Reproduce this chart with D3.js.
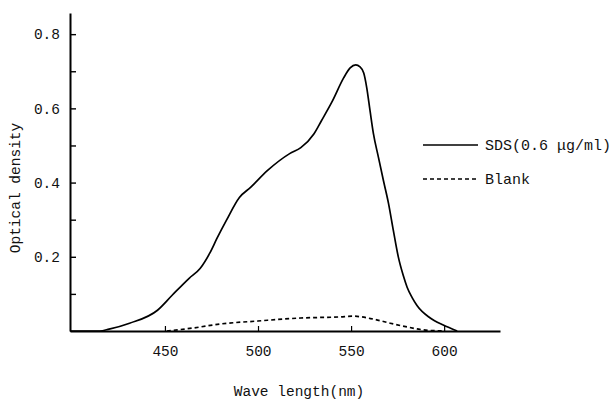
<!DOCTYPE html>
<html>
<head>
<meta charset="utf-8">
<script src="https://cdn.jsdelivr.net/npm/d3@7"></script>
<style>
  body { margin: 0; background: #fff; }
  text { font-family: "Liberation Mono", "DejaVu Sans Mono", monospace; fill: #111; }
</style>
</head>
<body>
<svg id="chart"></svg>
<script>
// wavelength (nm) and optical density
var sdsWave = [399, 415, 420, 431, 446, 454, 463, 469, 474, 478, 483, 490, 496, 505, 517, 523, 530, 534, 540, 546, 549.5, 552.5, 554.8, 556.8, 558.4, 560.2, 562, 564.7, 567.4, 570.1, 572.7, 575.4, 578, 580.1, 582.8, 585.5, 592.5, 599.5, 607];
var sdsOD   = [0, 0, 0.005, 0.021, 0.056, 0.097, 0.142, 0.169, 0.209, 0.25, 0.298, 0.36, 0.387, 0.432, 0.478, 0.494, 0.531, 0.566, 0.62, 0.682, 0.709, 0.717, 0.712, 0.695, 0.656, 0.593, 0.532, 0.468, 0.405, 0.344, 0.271, 0.199, 0.15, 0.118, 0.09, 0.068, 0.035, 0.016, 0];

var blankWave = [451, 465, 480, 500, 523, 544, 551, 562, 571, 580, 589, 600];
var blankOD   = [0, 0.008, 0.019, 0.027, 0.035, 0.038, 0.04, 0.032, 0.021, 0.011, 0.003, 0];

var xTicks = [450, 500, 550, 600];
var yTicks = [0.1, 0.2, 0.3, 0.4, 0.5, 0.6, 0.7, 0.8];
var yLabels = ['', '0.2', '', '0.4', '', '0.6', '', '0.8'];

var legendNames = ['SDS(0.6 \u03bcg/ml)', 'Blank'];

var svg = d3.select('#chart')
  .attr('width', 616)
  .attr('height', 400);

var x = d3.scaleLinear().domain([399, 630]).range([70, 500]);
var y = d3.scaleLinear().domain([0, 0.857]).range([331, 13]);

// x axis, ticks point up into the plot
var xAxis = svg.append('g')
  .attr('transform', 'translate(0,331)')
  .call(d3.axisBottom(x).tickValues(xTicks).tickSizeInner(-5).tickSizeOuter(0).tickPadding(15));
xAxis.select('.domain').attr('stroke', '#000').attr('stroke-width', 2);
xAxis.selectAll('.tick line').attr('stroke', '#000').attr('stroke-width', 1.2);
xAxis.selectAll('.tick text').style('font-size', '14.5px').attr('fill', '#111');

// y axis, ticks point right
var yAxis = svg.append('g')
  .attr('transform', 'translate(70,0)')
  .call(d3.axisLeft(y).tickValues(yTicks).tickSizeInner(-6).tickSizeOuter(0).tickPadding(10)
    .tickFormat(function(d, i) { return yLabels[i]; }));
yAxis.select('.domain').attr('stroke', '#000').attr('stroke-width', 2);
yAxis.selectAll('.tick line').attr('stroke', '#000').attr('stroke-width', 1.4);
yAxis.selectAll('.tick text').style('font-size', '14.5px').attr('fill', '#111');

// curves
var line = d3.line()
  .x(function(d) { return x(d[0]); })
  .y(function(d) { return y(d[1]); })
  .curve(d3.curveMonotoneX);

svg.append('path')
  .datum(d3.zip(sdsWave, sdsOD))
  .attr('d', line)
  .attr('fill', 'none')
  .attr('stroke', '#000')
  .attr('stroke-width', 1.7);

svg.append('path')
  .datum(d3.zip(blankWave, blankOD))
  .attr('d', line)
  .attr('fill', 'none')
  .attr('stroke', '#000')
  .attr('stroke-width', 1.7)
  .attr('stroke-dasharray', '4,3');

// legend
var legend = svg.selectAll('.legend')
  .data(legendNames)
  .enter()
  .append('g')
  .attr('class', 'legend')
  .attr('transform', function(d, i) { return 'translate(423,' + (145 + i * 34) + ')'; });

legend.append('line')
  .attr('x1', 0)
  .attr('x2', 55)
  .attr('stroke', '#000')
  .attr('stroke-width', 1.6)
  .attr('stroke-dasharray', function(d, i) { return i == 1 ? '4,3' : null; });

legend.append('text')
  .attr('x', 62)
  .attr('y', 5)
  .style('font-size', '15px')
  .text(function(d) { return d; });

// axis titles
svg.append('text')
  .attr('x', 299)
  .attr('y', 396)
  .attr('text-anchor', 'middle')
  .style('font-size', '14.5px')
  .text('Wave length(nm)');

svg.append('text')
  .attr('transform', 'translate(20,188) rotate(-90)')
  .attr('text-anchor', 'middle')
  .style('font-size', '14.5px')
  .text('Optical density');
</script>
</body>
</html>
